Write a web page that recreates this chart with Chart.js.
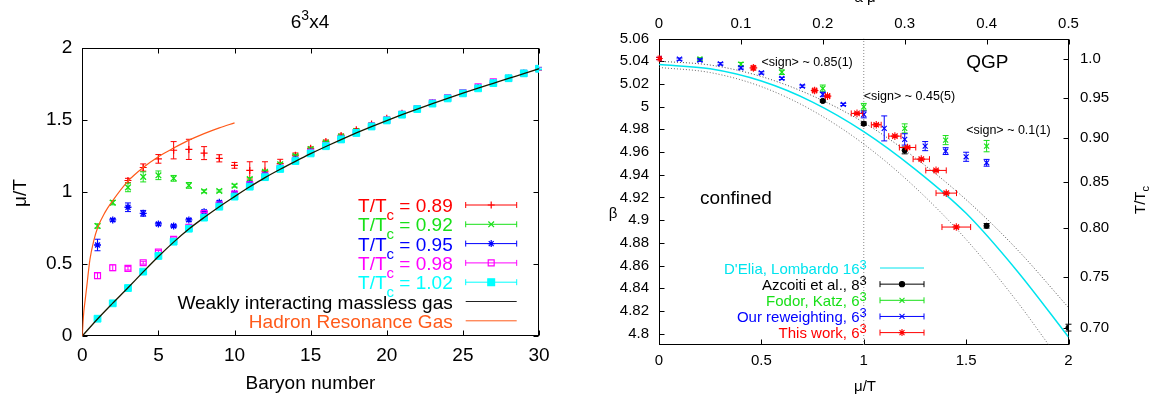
<!DOCTYPE html>
<html><head><meta charset="utf-8">
<script src="https://cdn.jsdelivr.net/npm/chart.js@4.4.1/dist/chart.umd.min.js"></script>
<style>
html,body{margin:0;padding:0;background:#fff;overflow:hidden;}
#c1{position:absolute;left:0;top:0;}
#c2{position:absolute;left:580px;top:0;}
</style></head><body>
<canvas id="c1" width="580" height="401"></canvas>
<canvas id="c2" width="578" height="401"></canvas>
<script>
// ================= LEFT PANEL DATA (6^3x4) =================
const leftXTicks = [0, 5, 10, 15, 20, 25, 30];
const leftYTicks = [0, 0.5, 1, 1.5, 2];
const tempLabels = ['0.89', '0.92', '0.95', '0.98', '1.02'];

const baryonAll = [1,2,3,4,5,6,7,8,9,10,11,12,13,14,15,16,17,18,19,20,21,22,23,24,25,26,27,28,29,30];
const baryonRed = [3,4,5,6,7,8,9,10,11,12,13,14,15,16,17,18,19,20,21,22,23,24,25,26,27,28,29,30];

const redY   = [1.08,1.17,1.23,1.29,1.296,1.27,1.234,1.185,1.15,1.145,1.197,1.256,1.303,1.351,1.393,1.433,1.472,1.512,1.547,1.58,1.62,1.655,1.69,1.725,1.76,1.79,1.825,1.857];
const redErr = [0.015,0.025,0.03,0.06,0.07,0.045,0.025,0.02,0.06,0.065,0.03,0.015,0.01,0.01,0.01,0.008,0.008,0.008,0.008,0.008,0.008,0.008,0.008,0.008,0.008,0.008,0.008,0.008];

const greenY   = [0.764,0.926,1.032,1.105,1.116,1.095,1.046,1.005,1.007,1.044,1.09,1.14,1.193,1.25,1.298,1.343,1.385,1.423,1.462,1.503,1.54,1.58,1.62,1.655,1.69,1.725,1.76,1.79,1.825,1.857];
const greenErr = [0.015,0.015,0.03,0.035,0.03,0.02,0.02,0.01,0.008,0.01,0.01,0.01,0.01,0.008,0.008,0.008,0.008,0.008,0.008,0.008,0.008,0.008,0.008,0.008,0.008,0.008,0.008,0.008,0.008,0.008];

const blueY   = [0.632,0.806,0.894,0.852,0.778,0.764,0.806,0.863,0.928,0.991,1.058,1.12,1.17,1.228,1.28,1.325,1.372,1.415,1.46,1.5,1.54,1.58,1.62,1.655,1.69,1.725,1.76,1.79,1.825,1.857];
const blueErr = [0.04,0.01,0.03,0.02,0.01,0.01,0.01,0.01,0.01,0.01,0.01,0.008,0.008,0.008,0.008,0.008,0.008,0.008,0.008,0.008,0.008,0.008,0.008,0.008,0.008,0.008,0.008,0.008,0.008,0.008];

const magY   = [0.419,0.474,0.47,0.509,0.583,0.671,0.755,0.85,0.91,0.985,1.05,1.11,1.165,1.22,1.275,1.322,1.368,1.412,1.458,1.5,1.54,1.58,1.62,1.655,1.69,1.73,1.765,1.79,1.825,1.857];
const magErr = [0.02,0.02,0.012,0.01,0.01,0.01,0.008,0.008,0.008,0.008,0.008,0.008,0.008,0.008,0.008,0.008,0.008,0.008,0.008,0.008,0.008,0.008,0.008,0.008,0.008,0.008,0.008,0.008,0.008,0.008];

const cyanY   = [0.12,0.227,0.333,0.447,0.556,0.655,0.745,0.822,0.898,0.968,1.037,1.103,1.16,1.215,1.268,1.318,1.365,1.41,1.455,1.497,1.537,1.576,1.614,1.65,1.685,1.72,1.756,1.79,1.824,1.856];
const cyanErr = [0.005,0.005,0.005,0.005,0.005,0.005,0.005,0.005,0.005,0.005,0.005,0.005,0.005,0.005,0.005,0.005,0.005,0.005,0.005,0.005,0.005,0.005,0.005,0.005,0.005,0.005,0.005,0.005,0.005,0.005];

const gasX = [0,1,2,3,4,5,6,7,8,9,10,11,12,13,14,15,16,17,18,19,20,21,22,23,24,25,26,27,28,29,30];
const gasY = [0,0.118,0.228,0.335,0.445,0.552,0.652,0.743,0.823,0.898,0.968,1.036,1.1,1.158,1.213,1.266,1.316,1.364,1.41,1.454,1.496,1.537,1.576,1.614,1.65,1.686,1.721,1.755,1.789,1.822,1.856];

const hrgX = [0,0.05,0.1,0.2,0.3,0.5,0.75,1,1.5,2,3,4,5,6,7,8,9,10];
const hrgY = [0,0.1,0.17,0.26,0.35,0.53,0.66,0.75,0.86,0.94,1.075,1.17,1.245,1.305,1.36,1.405,1.445,1.48];

// ================= RIGHT PANEL DATA =================
const muTicks = [0, 0.5, 1, 1.5, 2];
const muTickLabels = ['0', '0.5', '1', '1.5', '2'];
const aMuTicks = [0, 0.1, 0.2, 0.3, 0.4, 0.5];
const aMuTickLabels = ['0', '0.1', '0.2', '0.3', '0.4', '0.5'];
const betaTicks = [4.8,4.82,4.84,4.86,4.88,4.9,4.92,4.94,4.96,4.98,5,5.02,5.04,5.06];
const betaTickLabels = ['4.8','4.82','4.84','4.86','4.88','4.9','4.92','4.94','4.96','4.98','5','5.02','5.04','5.06'];
const tTcTickBeta = [5.0419, 5.0079, 4.9721, 4.9339, 4.8933, 4.8496, 4.8047];
const tTcTickLabels = ['1.0', '0.95', '0.90', '0.85', '0.80', '0.75', '0.70'];

const thisWorkMu    = [0,0.461,0.76,0.823,0.967,1.061,1.152,1.214,1.281,1.353,1.403,1.452];
const thisWorkBeta  = [5.0424,5.0341,5.0142,5.0092,4.994,4.984,4.974,4.964,4.9537,4.9438,4.9238,4.8939];
const thisWorkMuErr = [0.004,0.006,0.008,0.01,0.028,0.024,0.03,0.04,0.04,0.05,0.05,0.07];
const thisWorkBErr  = [0.001,0.001,0.001,0.001,0.001,0.001,0.001,0.001,0.001,0.001,0.001,0.001];

const azMu   = [0.8, 1.0, 1.2, 1.6, 2.0];
const azBeta = [5.005, 4.985, 4.9614, 4.895, 4.8053];
const azErr  = [0.001, 0.0015, 0.003, 0.002, 0.003];

const fkMu   = [0.2, 0.4, 0.6, 0.8, 1.0, 1.2, 1.4, 1.6];
const fkBeta = [5.042, 5.0374, 5.0303, 5.016, 4.9998, 4.9808, 4.9705, 4.9652];
const fkErr  = [0.001, 0.0015, 0.002, 0.003, 0.003, 0.004, 0.004, 0.005];

const rwMu   = [0, 0.1, 0.2, 0.3, 0.4, 0.5, 0.6, 0.7, 0.8, 0.9, 1.0, 1.1, 1.2, 1.3, 1.4, 1.5, 1.6];
const rwBeta = [5.0424,5.0418,5.0409,5.0377,5.0341,5.0297,5.0248,5.018,5.0107,5.0019,4.9931,4.9808,4.9711,4.9652,4.9608,4.9558,4.9505];
const rwErr  = [0.001,0.001,0.001,0.001,0.001,0.001,0.001,0.001,0.002,0.001,0.003,0.011,0.005,0.004,0.003,0.004,0.003];

const deliaMu   = [0, 0.25, 0.5, 0.75, 1.0, 1.25, 1.5, 1.75, 2.0];
const deliaBeta = [5.037, 5.0333, 5.0225, 5.004, 4.978, 4.945, 4.906, 4.855, 4.797];

const bandUpMu   = [0, 0.25, 0.5, 0.75, 1.0, 1.25, 1.5, 1.75, 2.0];
const bandUpBeta = [5.04, 5.0366, 5.0265, 5.0095, 4.986, 4.955, 4.918, 4.874, 4.823];
const bandLoMu   = [0, 0.25, 0.5, 0.75, 1.0, 1.25, 1.5, 1.75, 1.904];
const bandLoBeta = [5.0345, 5.030, 5.0176, 4.9965, 4.967, 4.929, 4.883, 4.828, 4.79];

const refMu = 1;           // vertical dotted reference line
const betaMin = 4.79, betaMax = 5.06;

// ================= HELPERS =================
const FAM = "'Liberation Sans', Arial, Helvetica, sans-serif";
Chart.defaults.font.family = FAM;
Chart.defaults.color = '#000';
function pts(xs, ys) { return xs.map((x, i) => ({x: x, y: ys[i]})); }

const RED = '#ff0000', GREEN = '#18e018', BLUE = '#0000ff', MAG = '#ff00ff', CYAN = '#00ffff', ORANGE = '#ff5a1a';
const CYAN2 = '#00e4ee';

function drawRich(ctx, parts, x, y, align) {
  let total = 0;
  parts.forEach(p => { ctx.font = p.size + 'px ' + FAM; p.w = ctx.measureText(p.t).width; total += p.w; });
  let cx = align === 'right' ? x - total : (align === 'center' ? x - total / 2 : x);
  ctx.textAlign = 'left'; ctx.textBaseline = 'alphabetic';
  parts.forEach(p => { ctx.font = p.size + 'px ' + FAM; ctx.fillText(p.t, cx, y + (p.dy || 0)); cx += p.w; });
}

function legendSample(ctx, x1, x2, y, color, style, filled, radius, withBars, bw) {
  ctx.save();
  ctx.strokeStyle = color; ctx.lineWidth = 1;
  ctx.beginPath();
  ctx.moveTo(x1, y); ctx.lineTo(x2, y);
  if (withBars) { ctx.moveTo(x1, y - 3); ctx.lineTo(x1, y + 3); ctx.moveTo(x2, y - 3); ctx.lineTo(x2, y + 3); }
  ctx.stroke();
  if (style) {
    ctx.fillStyle = filled ? color : 'rgba(0,0,0,0)';
    ctx.lineWidth = bw || 1.2;
    Chart.helpers.drawPoint(ctx, {pointStyle: style, radius: radius, rotation: 0, borderWidth: bw || 1.2}, (x1 + x2) / 2, y);
  }
  ctx.restore();
}

const errorBars = {
  id: 'errorBars',
  beforeDatasetDraw(chart, args) {
    const ds = chart.data.datasets[args.index];
    if (!ds.yErr && !ds.xErr) return;
    const meta = args.meta;
    const xs = chart.scales[meta.xAxisID], ys = chart.scales[meta.yAxisID];
    const ctx = chart.ctx, cap = ds.capSize || 3;
    ctx.save();
    ctx.strokeStyle = ds.borderColor; ctx.lineWidth = 1;
    ctx.beginPath();
    ds.data.forEach((p, i) => {
      const px = xs.getPixelForValue(p.x), py = ys.getPixelForValue(p.y);
      if (ds.yErr && ds.yErr[i]) {
        const y1 = ys.getPixelForValue(p.y - ds.yErr[i]), y2 = ys.getPixelForValue(p.y + ds.yErr[i]);
        ctx.moveTo(px, y1); ctx.lineTo(px, y2);
        ctx.moveTo(px - cap, y1); ctx.lineTo(px + cap, y1);
        ctx.moveTo(px - cap, y2); ctx.lineTo(px + cap, y2);
      }
      if (ds.xErr && ds.xErr[i]) {
        const x1 = xs.getPixelForValue(p.x - ds.xErr[i]), x2 = xs.getPixelForValue(p.x + ds.xErr[i]);
        ctx.moveTo(x1, py); ctx.lineTo(x2, py);
        ctx.moveTo(x1, py - cap); ctx.lineTo(x1, py + cap);
        ctx.moveTo(x2, py - cap); ctx.lineTo(x2, py + cap);
      }
    });
    ctx.stroke();
    ctx.restore();
  }
};

const framePlugin = {
  id: 'frame',
  beforeDatasetsDraw(chart, args, opts) {
    const ctx = chart.ctx, a = chart.chartArea;
    const L = Math.round(a.left) + 0.5, R = Math.round(a.right) - 0.5, T = Math.round(a.top) + 0.5, B = Math.round(a.bottom) - 0.5;
    ctx.save(); ctx.strokeStyle = '#000'; ctx.lineWidth = 1;
    ctx.beginPath();
    const n = opts.len || 5;
    (opts.sides || []).forEach(s => {
      const sc = chart.scales[s.scale];
      sc.ticks.forEach(t => {
        const p = Math.round(sc.getPixelForValue(t.value)) + 0.5;
        if (s.side === 'bottom') { ctx.moveTo(p, B); ctx.lineTo(p, B - n); }
        if (s.side === 'top') { ctx.moveTo(p, T); ctx.lineTo(p, T + n); }
        if (s.side === 'left') { ctx.moveTo(L, p); ctx.lineTo(L + n, p); }
        if (s.side === 'right') { ctx.moveTo(R, p); ctx.lineTo(R - n, p); }
      });
    });
    ctx.stroke();
    ctx.strokeRect(L, T, R - L, B - T);
    ctx.restore();
  }
};

function fixedTicks(values) { return s => { s.ticks = values.map(v => ({value: v})); }; }

// ================= LEFT CHART =================
const leftText = {
  id: 'leftText',
  afterDraw(chart) {
    const ctx = chart.ctx;
    ctx.save();
    ctx.fillStyle = '#000';
    drawRich(ctx, [{t: '6', size: 19}, {t: '3', size: 14, dy: -8}, {t: 'x4', size: 19}], 310, 28, 'center');
    drawRich(ctx, [{t: 'Baryon number', size: 19}], 310.5, 389, 'center');
    ctx.save(); ctx.translate(26, 193); ctx.rotate(-Math.PI / 2);
    drawRich(ctx, [{t: 'μ/T', size: 19}], 0, 0, 'center');
    ctx.restore();
    // legend
    const tx = 452.7, s1 = 465.7, s2 = 516.7, y0 = 205, dy = 19.3;
    const cols = [RED, GREEN, BLUE, MAG, CYAN];
    const styles = [['cross', true, 3.5], ['crossRot', true, 4], ['star', true, 3.5], ['rect', false, 4.2], ['rect', true, 4.8]];
    tempLabels.forEach((lab, i) => {
      const y = y0 + i * dy;
      ctx.fillStyle = cols[i];
      drawRich(ctx, [{t: 'T/T', size: 19}, {t: 'c', size: 15, dy: 8}, {t: ' = ' + lab, size: 19}], tx, y + 7, 'right');
      legendSample(ctx, s1, s2, y, cols[i], styles[i][0], styles[i][1], styles[i][2], true);
    });
    let y = y0 + 5 * dy;
    ctx.fillStyle = '#000';
    drawRich(ctx, [{t: 'Weakly interacting massless gas', size: 19}], tx, y + 7, 'right');
    legendSample(ctx, s1, s2, y, '#222', null, false, 0, false);
    y += dy;
    ctx.fillStyle = ORANGE;
    drawRich(ctx, [{t: 'Hadron Resonance Gas', size: 19}], tx, y + 7, 'right');
    legendSample(ctx, s1, s2, y, ORANGE, null, false, 0, false);
    ctx.restore();
  }
};

new Chart(document.getElementById('c1'), {
  type: 'scatter',
  data: {
    datasets: [
      {data: pts(hrgX, hrgY), showLine: true, borderColor: ORANGE, borderWidth: 1.2, pointRadius: 0, cubicInterpolationMode: 'monotone', order: 0},
      {data: pts(gasX, gasY), showLine: true, borderColor: '#1a1a00', borderWidth: 1.3, pointRadius: 0, cubicInterpolationMode: 'monotone', order: 1},
      {data: pts(baryonAll, cyanY), yErr: cyanErr, borderColor: CYAN, backgroundColor: CYAN, pointStyle: 'rect', pointRadius: 4.8, borderWidth: 1, order: 2},
      {data: pts(baryonAll, magY), yErr: magErr, borderColor: MAG, backgroundColor: 'rgba(0,0,0,0)', pointStyle: 'rect', pointRadius: 4.2, borderWidth: 1.2, order: 3},
      {data: pts(baryonAll, blueY), yErr: blueErr, borderColor: BLUE, backgroundColor: BLUE, pointStyle: 'star', pointRadius: 3.5, borderWidth: 1.3, order: 4},
      {data: pts(baryonAll, greenY), yErr: greenErr, borderColor: GREEN, backgroundColor: GREEN, pointStyle: 'crossRot', pointRadius: 4, borderWidth: 1.3, order: 5},
      {data: pts(baryonRed, redY), yErr: redErr, borderColor: RED, backgroundColor: RED, pointStyle: 'cross', pointRadius: 3.5, borderWidth: 1.2, order: 6}
    ]
  },
  options: {
    responsive: false, animation: false, events: [],
    layout: {padding: {left: 0, right: 41, top: 48, bottom: 0}},
    plugins: {legend: {display: false}, tooltip: {enabled: false}, frame: {len: 5, sides: [
      {scale: 'x', side: 'bottom'}, {scale: 'x', side: 'top'}, {scale: 'y', side: 'left'}, {scale: 'y', side: 'right'}]}},
    scales: {
      x: {type: 'linear', min: 0, max: 30, afterBuildTicks: fixedTicks(leftXTicks),
          ticks: {padding: 8, font: {size: 19}, maxRotation: 0, autoSkip: false, callback: v => String(v)},
          grid: {display: false, drawTicks: false}, border: {display: false}, afterFit(s) { s.height = 65; }},
      y: {type: 'linear', min: 0, max: 2, afterBuildTicks: fixedTicks(leftYTicks),
          ticks: {padding: 10, font: {size: 19}, autoSkip: false, callback: v => String(v)},
          grid: {display: false, drawTicks: false}, border: {display: false}, afterFit(s) { s.width = 82.3; }}
    }
  },
  plugins: [errorBars, framePlugin, leftText]
});

// ================= RIGHT CHART =================
const rightText = {
  id: 'rightText',
  afterDraw(chart) {
    const ctx = chart.ctx, xs = chart.scales.x, ys = chart.scales.y;
    ctx.save();
    ctx.fillStyle = '#000';
    // axis titles
    drawRich(ctx, [{t: 'μ/T', size: 15}], 285, 391, 'center');
    drawRich(ctx, [{t: 'a μ', size: 15}], 285, 2, 'center');
    drawRich(ctx, [{t: 'β', size: 15}], 33, 218, 'center');
    ctx.save(); ctx.translate(565, 200); ctx.rotate(-Math.PI / 2);
    drawRich(ctx, [{t: 'T/T', size: 15}, {t: 'c', size: 11, dy: 4}], 0, 0, 'center');
    ctx.restore();
    // annotations
    const at = (mu, b) => [xs.getPixelForValue(mu), ys.getPixelForValue(b)];
    let p;
    p = at(0.5, 5.04); drawRich(ctx, [{t: '<sign> ~ 0.85(1)', size: 12.5}], p[0], p[1] + 4.5, 'left');
    p = at(1.0, 5.01); drawRich(ctx, [{t: '<sign> ~ 0.45(5)', size: 12.5}], p[0], p[1] + 4.5, 'left');
    p = at(1.5, 4.98); drawRich(ctx, [{t: '<sign> ~ 0.1(1)', size: 12.5}], p[0], p[1] + 4.5, 'left');
    p = at(1.5, 5.04); drawRich(ctx, [{t: 'QGP', size: 19}], p[0], p[1] + 7, 'left');
    p = at(0.2, 4.92); drawRich(ctx, [{t: 'confined', size: 19}], p[0], p[1] + 7, 'left');
    // legend
    const tx = 286.7, s1 = 300, s2 = 344, y0 = 268, dy = 16.15;
    const names = ["D'Elia, Lombardo 16", 'Azcoiti et al., 8', 'Fodor, Katz, 6', 'Our reweighting, 6', 'This work, 6'];
    const cols = [CYAN2, '#000', GREEN, BLUE, RED];
    const styles = [null, ['circle', true, 2.6], ['crossRot', true, 3.5], ['crossRot', true, 3.5], ['star', true, 3.5]];
    names.forEach((nm, i) => {
      const y = y0 + i * dy;
      ctx.fillStyle = cols[i];
      drawRich(ctx, [{t: nm, size: 15}, {t: '3', size: 13, dy: -5}], tx, y + 5.5, 'right');
      if (styles[i]) legendSample(ctx, s1, s2, y, cols[i], styles[i][0], styles[i][1], styles[i][2], true, 1.1);
      else legendSample(ctx, s1, s2, y, cols[i], null, false, 0, false);
    });
    ctx.restore();
  }
};

new Chart(document.getElementById('c2'), {
  type: 'scatter',
  data: {
    datasets: [
      {data: pts(thisWorkMu, thisWorkBeta), xErr: thisWorkMuErr, yErr: thisWorkBErr, capSize: 3, borderColor: RED, backgroundColor: RED, pointStyle: 'star', pointRadius: 3.8, borderWidth: 1.1, order: 0},
      {data: pts(rwMu, rwBeta), yErr: rwErr, capSize: 3, borderColor: BLUE, backgroundColor: BLUE, pointStyle: 'crossRot', pointRadius: 3.5, borderWidth: 1.2, order: 1},
      {data: pts(fkMu, fkBeta), yErr: fkErr, capSize: 3, borderColor: GREEN, backgroundColor: GREEN, pointStyle: 'crossRot', pointRadius: 3.5, borderWidth: 1.2, order: 2},
      {data: pts(azMu, azBeta), yErr: azErr, capSize: 3, borderColor: '#000', backgroundColor: '#000', pointStyle: 'circle', pointRadius: 2.6, borderWidth: 1, order: 3},
      {data: pts(deliaMu, deliaBeta), showLine: true, borderColor: CYAN2, borderWidth: 1.5, pointRadius: 0, cubicInterpolationMode: 'monotone', order: 4},
      {data: pts(bandUpMu, bandUpBeta), showLine: true, borderColor: '#222', borderWidth: 0.8, borderDash: [1, 2], pointRadius: 0, cubicInterpolationMode: 'monotone', order: 5},
      {data: pts(bandLoMu, bandLoBeta), showLine: true, borderColor: '#444', borderWidth: 0.8, borderDash: [1, 2], pointRadius: 0, cubicInterpolationMode: 'monotone', order: 6},
      {data: [{x: refMu, y: betaMin}, {x: refMu, y: betaMax}], showLine: true, borderColor: '#888', borderWidth: 1, borderDash: [1, 2], pointRadius: 0, order: 7}
    ]
  },
  options: {
    responsive: false, animation: false, events: [],
    layout: {padding: 0},
    plugins: {legend: {display: false}, tooltip: {enabled: false}, frame: {len: 5, sides: [
      {scale: 'x', side: 'bottom'}, {scale: 'x2', side: 'top'}, {scale: 'y', side: 'left'}, {scale: 'y2', side: 'right'}]}},
    scales: {
      x: {type: 'linear', position: 'bottom', min: 0, max: 2, afterBuildTicks: fixedTicks(muTicks),
          ticks: {padding: 7, font: {size: 15}, maxRotation: 0, autoSkip: false, callback: (v, i) => muTickLabels[i]},
          grid: {display: false, drawTicks: false}, border: {display: false}, afterFit(s) { s.height = 56; }},
      x2: {type: 'linear', axis: 'x', position: 'top', min: 0, max: 0.5, afterBuildTicks: fixedTicks(aMuTicks),
          ticks: {padding: 6, font: {size: 15}, maxRotation: 0, autoSkip: false, callback: (v, i) => aMuTickLabels[i]},
          grid: {display: false, drawTicks: false}, border: {display: false}, afterFit(s) { s.height = 38.5; }},
      y: {type: 'linear', position: 'left', min: betaMin, max: betaMax, afterBuildTicks: fixedTicks(betaTicks),
          ticks: {padding: 10, font: {size: 15}, autoSkip: false, callback: (v, i) => betaTickLabels[i]},
          grid: {display: false, drawTicks: false}, border: {display: false}, afterFit(s) { s.width = 79; }},
      y2: {type: 'linear', axis: 'y', position: 'right', min: betaMin, max: betaMax, afterBuildTicks: fixedTicks(tTcTickBeta),
          ticks: {padding: 11.5, font: {size: 15}, autoSkip: false, callback: (v, i) => tTcTickLabels[i]},
          grid: {display: false, drawTicks: false}, border: {display: false}, afterFit(s) { s.width = 89.5; }}
    }
  },
  plugins: [errorBars, framePlugin, rightText]
});
</script>
</body></html>
